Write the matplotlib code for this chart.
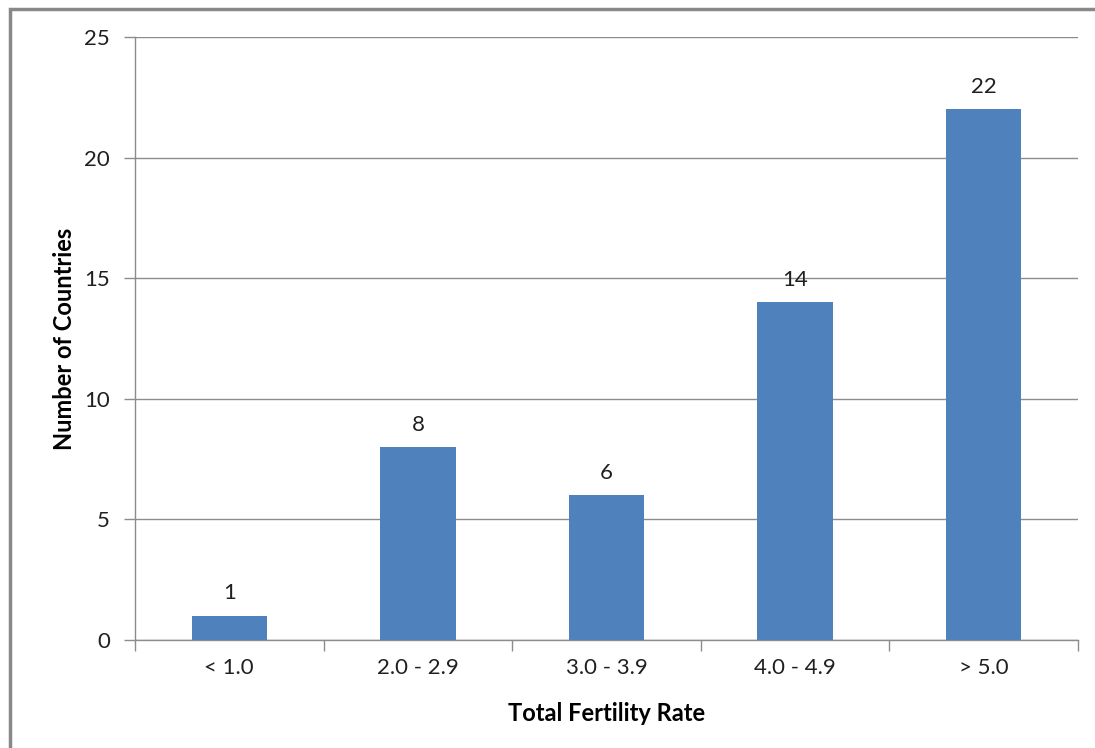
import matplotlib
matplotlib.use("Agg")
import matplotlib.pyplot as plt
from matplotlib.patches import Rectangle

categories = ["< 1.0", "2.0 - 2.9", "3.0 - 3.9", "4.0 - 4.9", "> 5.0"]
counts = [1, 8, 6, 14, 22]
yticks = [0, 5, 10, 15, 20, 25]

plt.rcParams['font.family'] = ['Lato', 'DejaVu Sans']

W, H = 1095, 748
fig = plt.figure(figsize=(W / 100, H / 100), dpi=100)
ax = fig.add_axes([135 / W, 1 - 640 / H, (1078 - 135) / W, (640 - 37) / H])

grid_col = "#8c8c8c"
text_col = "#202020"
x = list(range(len(categories)))
bars = ax.bar(x, counts, width=0.4, color="#4F81BD", zorder=3)
for xi, v in zip(x, counts):
    ax.annotate(str(v), (xi, v), xytext=(0, 9), textcoords="offset points",
                ha="center", va="bottom", fontsize=16, color=text_col)

ax.set_xlim(-0.5, len(categories) - 0.5)
ax.set_ylim(0, 25)
ax.set_yticks(yticks)
ax.set_xticks(x)
ax.set_xticklabels(categories)
ax.tick_params(axis="x", length=0, pad=13, labelsize=16, labelcolor=text_col)
ax.tick_params(axis="y", length=8, width=1, color=grid_col, pad=10, labelsize=16, labelcolor=text_col)
# category boundary ticks
ax.set_xticks([i - 0.5 for i in range(len(categories) + 1)], minor=True)
ax.tick_params(axis="x", which="minor", length=8, width=1, color=grid_col, direction="out")

ax.yaxis.grid(True, color=grid_col, linewidth=1, zorder=0)
ax.set_axisbelow(True)
for s in ["top", "right"]:
    ax.spines[s].set_visible(False)
for s in ["left", "bottom"]:
    ax.spines[s].set_color(grid_col)
    ax.spines[s].set_linewidth(1)

ax.set_xlabel("Total Fertility Rate", fontsize=17, fontweight="bold", labelpad=17, color="#000000")
ax.set_ylabel("Number of Countries", fontsize=17, fontweight="bold", labelpad=6, color="#000000")

fig.patches.append(Rectangle((10 / W, -0.05), 1.1, 1 - 9 / H + 0.05, transform=fig.transFigure,
                             fill=False, edgecolor="#888888", linewidth=2.5, figure=fig))

fig.savefig("out.png", dpi=100)
